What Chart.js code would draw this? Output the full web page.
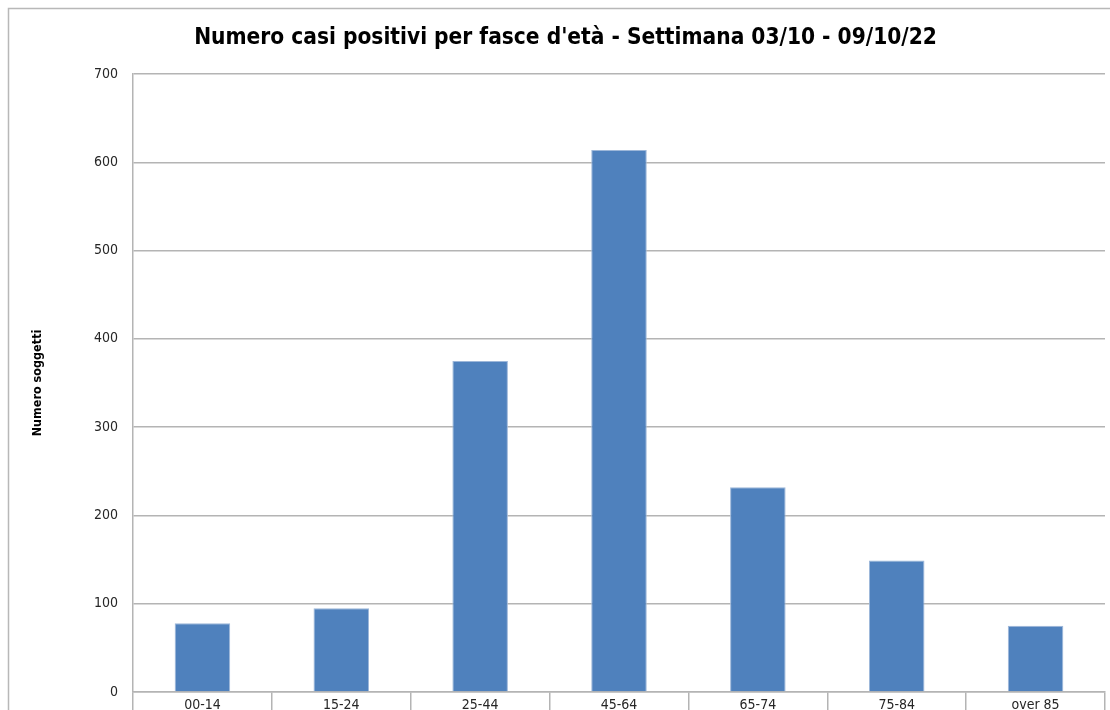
<!DOCTYPE html>
<html>
<head>
<meta charset="utf-8">
<script src="https://cdn.jsdelivr.net/npm/chart.js@4"></script>
<style>
  html, body { margin: 0; padding: 0; background: #fff; overflow: hidden; }
  #wrap { position: relative; width: 1110px; height: 730px; }
</style>
</head>
<body>
<div id="wrap"><canvas id="casiChart" width="1110" height="730"></canvas></div>
<script>
/* dati */
const fasce = ["00-14", "15-24", "25-44", "45-64", "65-74", "75-84", "over 85"];
const casiPositivi = [78, 95, 375, 614, 232, 149, 75];
const yTicks = [0, 100, 200, 300, 400, 500, 600, 700];

const FONT = "'Liberation Sans Narrow', 'DejaVu Sans Condensed', 'Open Sans', sans-serif";

// cornice esterna stile Excel
const frame = {
  id: "frame",
  afterDraw(chart) {
    const ctx = chart.ctx;
    ctx.save();
    ctx.strokeStyle = "#b8b8b8";
    ctx.lineWidth = 1.5;
    ctx.beginPath();
    ctx.moveTo(8.5, 800);
    ctx.lineTo(8.5, 8.5);
    ctx.lineTo(1200, 8.5);
    ctx.stroke();
    ctx.restore();
  }
};

new Chart(document.getElementById("casiChart"), {
  type: "bar",
  data: {
    labels: fasce,
    datasets: [{
      data: casiPositivi,
      backgroundColor: "#4f81bd",
      borderColor: "#9db7d9",
      borderWidth: 1,
      barPercentage: 0.4,
      categoryPercentage: 1
    }]
  },
  options: {
    responsive: false,
    animation: false,
    layout: { padding: { left: 26, right: 5, top: 0, bottom: 0 } },
    plugins: {
      legend: { display: false },
      tooltip: { enabled: false },
      title: {
        display: true,
        text: "Numero casi positivi per fasce d'età - Settimana 03/10 - 09/10/22",
        color: "#000",
        font: { family: FONT, size: 22.5, weight: "bold", lineHeight: 1.2 },
        padding: { top: 25, bottom: 22 }
      }
    },
    scales: {
      x: {
        offset: true,
        grid: {
          offset: true,
          drawOnChartArea: false,
          drawTicks: true,
          tickLength: 18,
          color: "#b4b4b4",
          lineWidth: 1.5
        },
        border: { color: "#b4b4b4", width: 1.5 },
        ticks: {
          color: "#262626",
          font: { family: FONT, size: 14 },
          padding: -13,
          maxRotation: 0
        },
        afterFit(scale) { scale.height = 38; }
      },
      y: {
        min: 0,
        max: 700,
        afterBuildTicks(scale) { scale.ticks = yTicks.map(v => ({ value: v })); },
        grid: { color: "#b4b4b4", lineWidth: 1.5, drawTicks: false },
        border: { color: "#b4b4b4", width: 1.5 },
        ticks: {
          color: "#262626",
          font: { family: FONT, size: 14 },
          padding: 15
        },
        title: {
          display: true,
          text: "Numero soggetti",
          color: "#000",
          font: { family: FONT, size: 12.5, weight: "bold", lineHeight: 1.2 },
          padding: { top: 4, bottom: 0 }
        },
        afterFit(scale) { scale.width = 107; }
      }
    }
  },
  plugins: [frame]
});
</script>
</body>
</html>
